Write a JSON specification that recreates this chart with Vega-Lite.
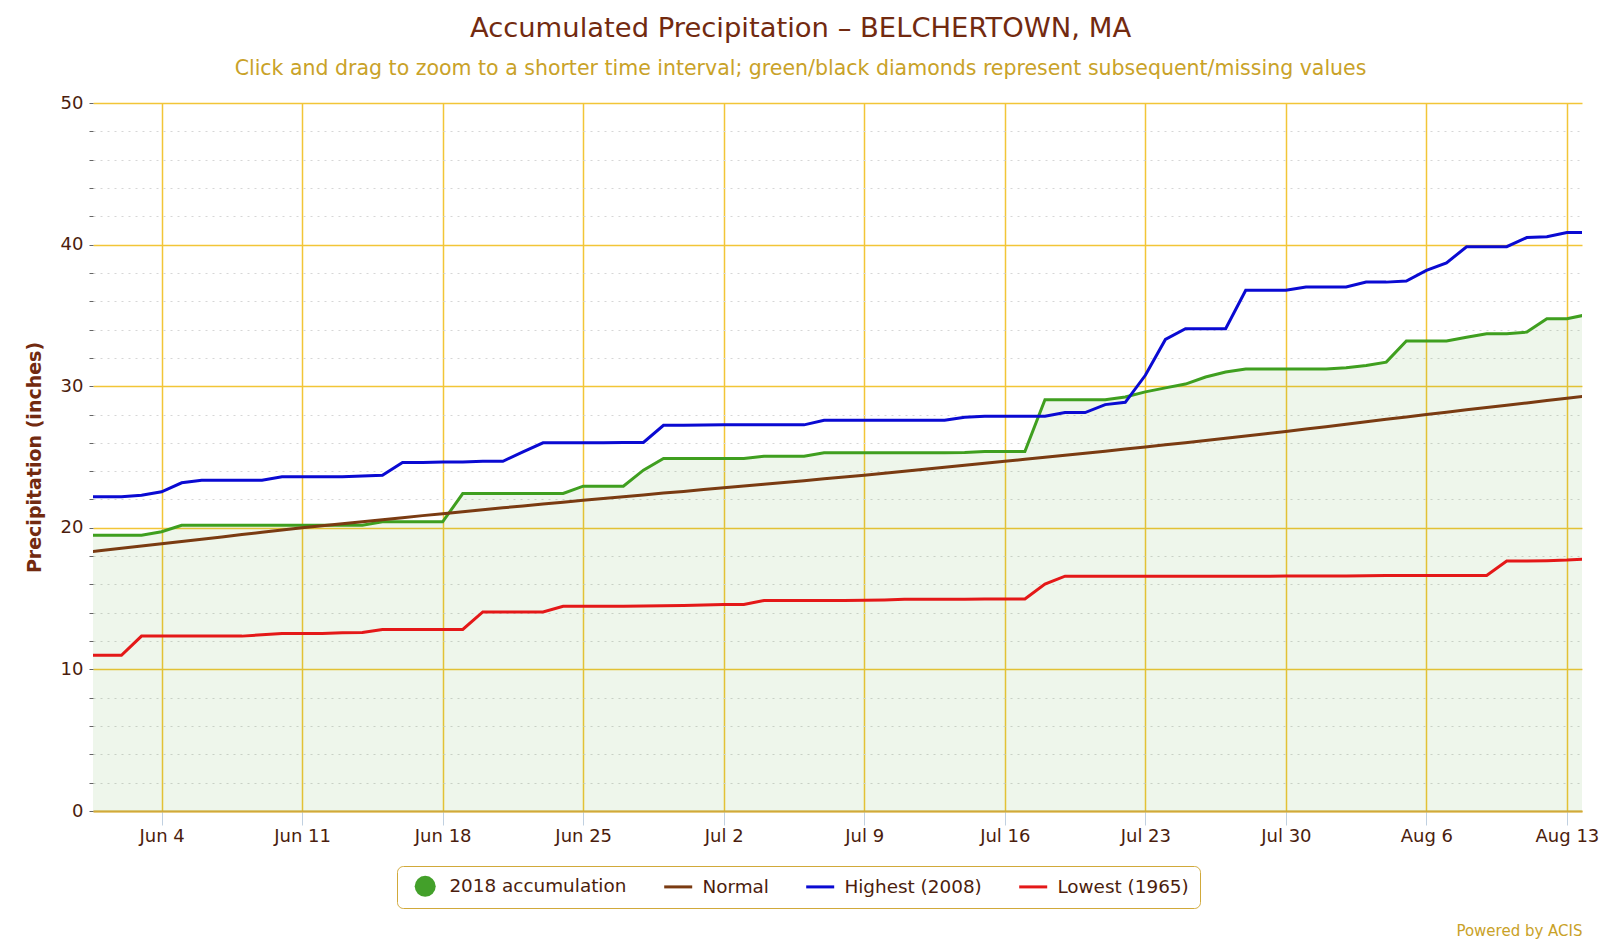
{
  "$schema": "https://vega.github.io/schema/vega-lite/v6.json",
  "width": 1489,
  "height": 708,
  "autosize": {"type": "none"},
  "padding": {"left": 93, "top": 103, "right": 18, "bottom": 132},
  "background": "white",
  "config": {
    "view": {"stroke": null},
    "font": "DejaVu Sans"
  },
  "title": {
    "text": "Accumulated Precipitation – BELCHERTOWN, MA",
    "subtitle": "Click and drag to zoom to a shorter time interval; green/black diamonds represent subsequent/missing values",
    "frame": "group",
    "anchor": "middle",
    "dx": -37,
    "offset": 15,
    "font": "DejaVu Sans",
    "fontSize": 27.4,
    "fontWeight": "normal",
    "color": "#722a10",
    "subtitleFont": "DejaVu Sans",
    "subtitleFontSize": 20.5,
    "subtitleColor": "#c9a228",
    "subtitlePadding": 16
  },
  "data": {
    "values": [
      {"date": "2018-05-31", "acc2018": 19.48, "normal": 18.24, "highest": 22.2, "lowest": 11.0},
      {"date": "2018-06-01", "acc2018": 19.48, "normal": 18.40, "highest": 22.2, "lowest": 11.0},
      {"date": "2018-06-02", "acc2018": 19.48, "normal": 18.55, "highest": 22.2, "lowest": 11.0},
      {"date": "2018-06-03", "acc2018": 19.48, "normal": 18.71, "highest": 22.3, "lowest": 12.35},
      {"date": "2018-06-04", "acc2018": 19.72, "normal": 18.87, "highest": 22.54, "lowest": 12.35},
      {"date": "2018-06-05", "acc2018": 20.18, "normal": 19.03, "highest": 23.18, "lowest": 12.35},
      {"date": "2018-06-06", "acc2018": 20.18, "normal": 19.19, "highest": 23.36, "lowest": 12.35},
      {"date": "2018-06-07", "acc2018": 20.18, "normal": 19.35, "highest": 23.36, "lowest": 12.35},
      {"date": "2018-06-08", "acc2018": 20.18, "normal": 19.52, "highest": 23.36, "lowest": 12.35},
      {"date": "2018-06-09", "acc2018": 20.18, "normal": 19.68, "highest": 23.36, "lowest": 12.44},
      {"date": "2018-06-10", "acc2018": 20.18, "normal": 19.84, "highest": 23.6, "lowest": 12.54},
      {"date": "2018-06-11", "acc2018": 20.18, "normal": 20.0, "highest": 23.6, "lowest": 12.54},
      {"date": "2018-06-12", "acc2018": 20.18, "normal": 20.14, "highest": 23.6, "lowest": 12.54},
      {"date": "2018-06-13", "acc2018": 20.18, "normal": 20.29, "highest": 23.6, "lowest": 12.58},
      {"date": "2018-06-14", "acc2018": 20.18, "normal": 20.43, "highest": 23.66, "lowest": 12.6},
      {"date": "2018-06-15", "acc2018": 20.42, "normal": 20.57, "highest": 23.71, "lowest": 12.82},
      {"date": "2018-06-16", "acc2018": 20.42, "normal": 20.71, "highest": 24.61, "lowest": 12.82},
      {"date": "2018-06-17", "acc2018": 20.42, "normal": 20.86, "highest": 24.61, "lowest": 12.82},
      {"date": "2018-06-18", "acc2018": 20.42, "normal": 21.0, "highest": 24.65, "lowest": 12.82},
      {"date": "2018-06-19", "acc2018": 22.42, "normal": 21.14, "highest": 24.65, "lowest": 12.82},
      {"date": "2018-06-20", "acc2018": 22.42, "normal": 21.27, "highest": 24.7, "lowest": 14.06},
      {"date": "2018-06-21", "acc2018": 22.42, "normal": 21.41, "highest": 24.7, "lowest": 14.06},
      {"date": "2018-06-22", "acc2018": 22.42, "normal": 21.54, "highest": 25.36, "lowest": 14.06},
      {"date": "2018-06-23", "acc2018": 22.42, "normal": 21.68, "highest": 26.0, "lowest": 14.06},
      {"date": "2018-06-24", "acc2018": 22.42, "normal": 21.81, "highest": 26.0, "lowest": 14.46},
      {"date": "2018-06-25", "acc2018": 22.94, "normal": 21.95, "highest": 26.0, "lowest": 14.46},
      {"date": "2018-06-26", "acc2018": 22.94, "normal": 22.07, "highest": 26.0, "lowest": 14.46},
      {"date": "2018-06-27", "acc2018": 22.94, "normal": 22.2, "highest": 26.02, "lowest": 14.46},
      {"date": "2018-06-28", "acc2018": 24.07, "normal": 22.32, "highest": 26.03, "lowest": 14.48},
      {"date": "2018-06-29", "acc2018": 24.89, "normal": 22.45, "highest": 27.24, "lowest": 14.5},
      {"date": "2018-06-30", "acc2018": 24.89, "normal": 22.57, "highest": 27.24, "lowest": 14.52},
      {"date": "2018-07-01", "acc2018": 24.89, "normal": 22.7, "highest": 27.26, "lowest": 14.55},
      {"date": "2018-07-02", "acc2018": 24.89, "normal": 22.82, "highest": 27.27, "lowest": 14.58},
      {"date": "2018-07-03", "acc2018": 24.89, "normal": 22.95, "highest": 27.27, "lowest": 14.58},
      {"date": "2018-07-04", "acc2018": 25.05, "normal": 23.07, "highest": 27.27, "lowest": 14.86},
      {"date": "2018-07-05", "acc2018": 25.05, "normal": 23.2, "highest": 27.27, "lowest": 14.86},
      {"date": "2018-07-06", "acc2018": 25.05, "normal": 23.33, "highest": 27.27, "lowest": 14.86},
      {"date": "2018-07-07", "acc2018": 25.3, "normal": 23.46, "highest": 27.59, "lowest": 14.86},
      {"date": "2018-07-08", "acc2018": 25.3, "normal": 23.58, "highest": 27.59, "lowest": 14.86},
      {"date": "2018-07-09", "acc2018": 25.3, "normal": 23.71, "highest": 27.59, "lowest": 14.88},
      {"date": "2018-07-10", "acc2018": 25.3, "normal": 23.85, "highest": 27.59, "lowest": 14.9},
      {"date": "2018-07-11", "acc2018": 25.3, "normal": 23.99, "highest": 27.59, "lowest": 14.95},
      {"date": "2018-07-12", "acc2018": 25.3, "normal": 24.13, "highest": 27.59, "lowest": 14.95},
      {"date": "2018-07-13", "acc2018": 25.3, "normal": 24.27, "highest": 27.59, "lowest": 14.95},
      {"date": "2018-07-14", "acc2018": 25.32, "normal": 24.42, "highest": 27.8, "lowest": 14.96},
      {"date": "2018-07-15", "acc2018": 25.39, "normal": 24.56, "highest": 27.88, "lowest": 14.97},
      {"date": "2018-07-16", "acc2018": 25.39, "normal": 24.7, "highest": 27.88, "lowest": 14.97},
      {"date": "2018-07-17", "acc2018": 25.39, "normal": 24.84, "highest": 27.88, "lowest": 14.97},
      {"date": "2018-07-18", "acc2018": 29.05, "normal": 24.99, "highest": 27.88, "lowest": 16.02},
      {"date": "2018-07-19", "acc2018": 29.05, "normal": 25.13, "highest": 28.14, "lowest": 16.58},
      {"date": "2018-07-20", "acc2018": 29.05, "normal": 25.27, "highest": 28.14, "lowest": 16.58},
      {"date": "2018-07-21", "acc2018": 29.05, "normal": 25.41, "highest": 28.7, "lowest": 16.58},
      {"date": "2018-07-22", "acc2018": 29.24, "normal": 25.56, "highest": 28.86, "lowest": 16.58},
      {"date": "2018-07-23", "acc2018": 29.6, "normal": 25.7, "highest": 30.77, "lowest": 16.58},
      {"date": "2018-07-24", "acc2018": 29.88, "normal": 25.86, "highest": 33.3, "lowest": 16.58},
      {"date": "2018-07-25", "acc2018": 30.15, "normal": 26.01, "highest": 34.06, "lowest": 16.58},
      {"date": "2018-07-26", "acc2018": 30.65, "normal": 26.17, "highest": 34.06, "lowest": 16.58},
      {"date": "2018-07-27", "acc2018": 31.0, "normal": 26.33, "highest": 34.06, "lowest": 16.58},
      {"date": "2018-07-28", "acc2018": 31.21, "normal": 26.49, "highest": 36.77, "lowest": 16.58},
      {"date": "2018-07-29", "acc2018": 31.21, "normal": 26.64, "highest": 36.77, "lowest": 16.58},
      {"date": "2018-07-30", "acc2018": 31.21, "normal": 26.8, "highest": 36.77, "lowest": 16.6},
      {"date": "2018-07-31", "acc2018": 31.21, "normal": 26.97, "highest": 37.0, "lowest": 16.6},
      {"date": "2018-08-01", "acc2018": 31.21, "normal": 27.14, "highest": 37.0, "lowest": 16.6},
      {"date": "2018-08-02", "acc2018": 31.3, "normal": 27.31, "highest": 37.0, "lowest": 16.6},
      {"date": "2018-08-03", "acc2018": 31.46, "normal": 27.49, "highest": 37.35, "lowest": 16.62},
      {"date": "2018-08-04", "acc2018": 31.7, "normal": 27.66, "highest": 37.35, "lowest": 16.64},
      {"date": "2018-08-05", "acc2018": 33.2, "normal": 27.83, "highest": 37.43, "lowest": 16.64},
      {"date": "2018-08-06", "acc2018": 33.2, "normal": 28.0, "highest": 38.18, "lowest": 16.64},
      {"date": "2018-08-07", "acc2018": 33.2, "normal": 28.16, "highest": 38.7, "lowest": 16.64},
      {"date": "2018-08-08", "acc2018": 33.45, "normal": 28.33, "highest": 39.85, "lowest": 16.64},
      {"date": "2018-08-09", "acc2018": 33.7, "normal": 28.49, "highest": 39.85, "lowest": 16.64},
      {"date": "2018-08-10", "acc2018": 33.7, "normal": 28.66, "highest": 39.85, "lowest": 17.66},
      {"date": "2018-08-11", "acc2018": 33.82, "normal": 28.82, "highest": 40.5, "lowest": 17.66},
      {"date": "2018-08-12", "acc2018": 34.76, "normal": 28.99, "highest": 40.56, "lowest": 17.68},
      {"date": "2018-08-13", "acc2018": 34.76, "normal": 29.15, "highest": 40.85, "lowest": 17.72},
      {"date": "2018-08-14", "acc2018": 35.06, "normal": 29.31, "highest": 40.85, "lowest": 17.8}
    ]
  },
  "transform": [
    {"fold": ["acc2018", "normal", "highest", "lowest"], "as": ["key", "value"]}
  ],
  "encoding": {
    "x": {
      "field": "date",
      "type": "temporal",
      "scale": {
        "type": "utc",
        "domain": [
          {"year": 2018, "month": 5, "date": 31, "hours": 14, "utc": true},
          {"year": 2018, "month": 8, "date": 13, "hours": 18, "utc": true}
        ]
      },
      "axis": {
        "title": "Powered by ACIS",
        "titleFont": "DejaVu Sans",
        "titleFontSize": 15,
        "titleFontWeight": "normal",
        "titleColor": "#c9a228",
        "titleAnchor": null,
        "titleAlign": "right",
        "titleBaseline": "alphabetic",
        "titleX": 1489,
        "titleY": 124,
        "values": [
          {"year": 2018, "month": 6, "date": 4, "utc": true},
          {"year": 2018, "month": 6, "date": 11, "utc": true},
          {"year": 2018, "month": 6, "date": 18, "utc": true},
          {"year": 2018, "month": 6, "date": 25, "utc": true},
          {"year": 2018, "month": 7, "date": 2, "utc": true},
          {"year": 2018, "month": 7, "date": 9, "utc": true},
          {"year": 2018, "month": 7, "date": 16, "utc": true},
          {"year": 2018, "month": 7, "date": 23, "utc": true},
          {"year": 2018, "month": 7, "date": 30, "utc": true},
          {"year": 2018, "month": 8, "date": 6, "utc": true},
          {"year": 2018, "month": 8, "date": 13, "utc": true}
        ],
        "labelExpr": "utcFormat(datum.value, '%b %-d')",
        "labelFont": "DejaVu Sans",
        "labelFontSize": 18,
        "labelColor": "#4b1d0d",
        "labelPadding": 2,
        "labelFlush": false,
        "labelOverlap": false,
        "tickSize": 14,
        "tickColor": "#c0d0e0",
        "tickWidth": 1,
        "domainColor": "#d1a93a",
        "domainWidth": 2,
        "grid": true,
        "gridColor": "#f2c537",
        "gridWidth": 1.5,
        "gridOpacity": 1
      }
    },
    "y": {
      "field": "value",
      "type": "quantitative",
      "scale": {"domain": [0, 50], "nice": false, "zero": true},
      "axis": {
        "title": "Precipitation (inches)",
        "titleFont": "DejaVu Sans",
        "titleFontSize": 19,
        "titleFontWeight": "bold",
        "titleColor": "#722a10",
        "titlePadding": 16,
        "values": [0, 2, 4, 6, 8, 10, 12, 14, 16, 18, 20, 22, 24, 26, 28, 30, 32, 34, 36, 38, 40, 42, 44, 46, 48, 50],
        "labelExpr": "datum.value % 10 == 0 ? datum.label : ''",
        "labelFont": "DejaVu Sans",
        "labelFontSize": 18,
        "labelColor": "#4b1d0d",
        "labelPadding": 6,
        "labelFlush": false,
        "labelOverlap": false,
        "domain": false,
        "tickSize": 4,
        "tickColor": "#666666",
        "tickWidth": 1,
        "grid": true,
        "gridColor": {"condition": {"test": "datum.value % 10 == 0", "value": "#f2c537"}, "value": "#d6d6d6"},
        "gridDash": {"condition": {"test": "datum.value % 10 == 0", "value": []}, "value": [2, 5]},
        "gridWidth": {"condition": {"test": "datum.value % 10 == 0", "value": 1.5}, "value": 1},
        "gridOpacity": 1
      }
    }
  },
  "layer": [
    {
      "transform": [{"filter": "datum.key == 'acc2018'"}],
      "mark": {"type": "area", "clip": true, "color": "#3f9f1f", "fillOpacity": 0.09, "interpolate": "linear"}
    },
    {
      "mark": {"type": "line", "clip": true, "strokeWidth": 3, "interpolate": "linear"},
      "encoding": {
        "color": {
          "field": "key",
          "type": "nominal",
          "scale": {
            "domain": ["acc2018", "normal", "highest", "lowest"],
            "range": ["#3f9f1f", "#7a3b12", "#0a0ad2", "#e41818"]
          },
          "legend": {
            "title": null,
            "orient": "none",
            "legendX": 304,
            "legendY": 763,
            "direction": "horizontal",
            "labelExpr": "datum.value == 'acc2018' ? '2018 accumulation' : datum.value == 'normal' ? 'Normal' : datum.value == 'highest' ? 'Highest (2008)' : 'Lowest (1965)'",
            "labelFont": "DejaVu Sans",
            "labelFontSize": 18.4,
            "labelColor": "#4b1d0d",
            "labelLimit": 300,
            "labelOffset": 15,
            "symbolOffset": 8,
            "columnPadding": 31,
            "symbolType": "stroke",
            "symbolSize": 784,
            "symbolStrokeWidth": 3,
            "strokeColor": "#d1a93a",
            "fillColor": "#ffffff",
            "cornerRadius": 6,
            "padding": 11,
            "encode": {
              "symbols": {
                "update": {
                  "shape": {"signal": "datum.value == 'acc2018' ? 'circle' : 'stroke'"},
                  "size": {"signal": "datum.value == 'acc2018' ? 441 : 784"},
                  "fill": {"signal": "datum.value == 'acc2018' ? '#43a02a' : 'transparent'"},
                  "strokeWidth": {"signal": "datum.value == 'acc2018' ? 0 : 3"}
                }
              }
            }
          }
        }
      }
    }
  ]
}
